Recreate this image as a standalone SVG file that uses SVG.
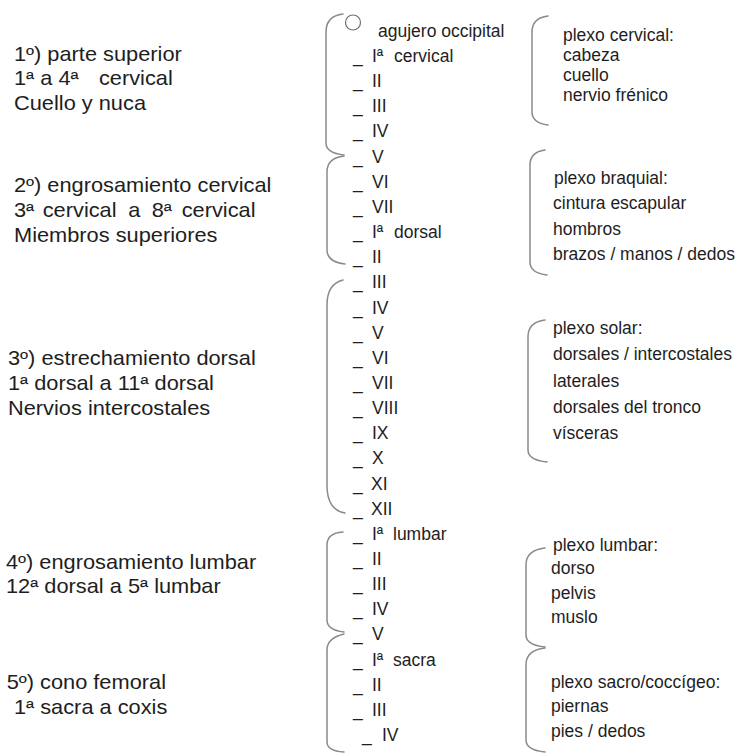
<svg xmlns="http://www.w3.org/2000/svg" width="740" height="753" viewBox="0 0 740 753">
<style>
text{font-family:"Liberation Sans",Arial,sans-serif;fill:#1e1e1e}
.big{font-size:20px}
.lab{font-size:17.5px}
.pl{font-size:17.5px}
.br{fill:none;stroke:#8a8a8a;stroke-width:1.5;stroke-linecap:round}
</style>
<rect width="740" height="753" fill="#ffffff"/>
<g id="regions" transform="scale(1.09,1)">
<g id="r1"><text class="big" x="12.84" y="61">1º) parte superior</text><text class="big" x="12.84" y="85.5">1ª a 4ª<tspan x="90.8">cervical</tspan></text><text class="big" x="12.84" y="110">Cuello y nuca</text></g>
<g id="r2"><text class="big" x="12.84" y="191.7">2º) engrosamiento cervical</text><text class="big" x="12.84" y="216.7">3ª<tspan x="39.2">cervical</tspan><tspan x="117.7">a</tspan><tspan x="139.2">8ª</tspan><tspan x="166.7">cervical</tspan></text><text class="big" x="12.84" y="241.7">Miembros superiores</text></g>
<g id="r3"><text class="big" x="7.34" y="365">3º) estrechamiento dorsal</text><text class="big" x="7.34" y="390">1ª dorsal a 11ª dorsal</text><text class="big" x="7.34" y="415">Nervios intercostales</text></g>
<g id="r4"><text class="big" x="5.5" y="569">4º) engrosamiento lumbar</text><text class="big" x="5.5" y="593.3">12ª dorsal a 5ª lumbar</text></g>
<g id="r5"><text class="big" x="6.1" y="689.3">5º) cono femoral</text><text class="big" x="12.84" y="714">1ª sacra a coxis</text></g>
</g>
<g id="connectors">
<path class="br" d="M343,14 Q326,16 326,32 L326,143 Q326,153 344,155"/>
<path class="br" d="M344,156 Q327,158 327,172 L327,250 Q327,262 345,264"/>
<path class="br" d="M343,280 Q327,284 327,305 L327,485 Q327,510 345,513"/>
<path class="br" d="M343,532 Q327,533 327,545 L327,620 Q327,630 344,632"/>
<path class="br" d="M344,634 Q327,638 327,650 L327,742 Q327,751 344,752"/>
<path class="br" d="M548,16 Q532,18 532,32 L532,112 Q532,123 548,125"/>
<path class="br" d="M545,150 Q530,152 530,165 L530,262 Q530,273 547,275"/>
<path class="br" d="M545,320 Q528,322 528,337 L528,450 Q528,460 547,462"/>
<path class="br" d="M545,548 Q526,550 526,565 L526,635 Q526,645 545,647"/>
<path class="br" d="M545,648 Q526,650 526,665 L526,740 Q526,750 545,752"/>
</g>
<g id="occipital"><circle cx="353" cy="22.5" r="7.5" fill="none" stroke="#707070" stroke-width="1.2"/><text class="lab" x="378" y="37">agujero occipital</text></g>
<g id="vertebrae">
<g id="c1"><text class="lab" x="353" y="62">_</text><text class="lab" x="372" y="62">Iª<tspan x="394">cervical</tspan></text></g>
<g id="c2"><text class="lab" x="353" y="87.15">_</text><text class="lab" x="372" y="87.15">II</text></g>
<g id="c3"><text class="lab" x="353" y="112.3">_</text><text class="lab" x="372" y="112.3">III</text></g>
<g id="c4"><text class="lab" x="353" y="137.45">_</text><text class="lab" x="372" y="137.45">IV</text></g>
<g id="c5"><text class="lab" x="353" y="162.6">_</text><text class="lab" x="372" y="162.6">V</text></g>
<g id="c6"><text class="lab" x="353" y="187.75">_</text><text class="lab" x="372" y="187.75">VI</text></g>
<g id="c7"><text class="lab" x="353" y="212.9">_</text><text class="lab" x="372" y="212.9">VII</text></g>
<g id="d1"><text class="lab" x="353" y="238.05">_</text><text class="lab" x="372" y="238.05">Iª<tspan x="394">dorsal</tspan></text></g>
<g id="d2"><text class="lab" x="353" y="263.2">_</text><text class="lab" x="372" y="263.2">II</text></g>
<g id="d3"><text class="lab" x="353" y="288.35">_</text><text class="lab" x="372" y="288.35">III</text></g>
<g id="d4"><text class="lab" x="353" y="313.5">_</text><text class="lab" x="372" y="313.5">IV</text></g>
<g id="d5"><text class="lab" x="353" y="338.65">_</text><text class="lab" x="372" y="338.65">V</text></g>
<g id="d6"><text class="lab" x="353" y="363.8">_</text><text class="lab" x="372" y="363.8">VI</text></g>
<g id="d7"><text class="lab" x="353" y="388.95">_</text><text class="lab" x="372" y="388.95">VII</text></g>
<g id="d8"><text class="lab" x="353" y="414.1">_</text><text class="lab" x="372" y="414.1">VIII</text></g>
<g id="d9"><text class="lab" x="353" y="439.25">_</text><text class="lab" x="372" y="439.25">IX</text></g>
<g id="d10"><text class="lab" x="353" y="464.4">_</text><text class="lab" x="372" y="464.4">X</text></g>
<g id="d11"><text class="lab" x="353" y="489.55">_</text><text class="lab" x="371" y="489.55">XI</text></g>
<g id="d12"><text class="lab" x="353" y="514.7">_</text><text class="lab" x="371" y="514.7">XII</text></g>
<g id="l1"><text class="lab" x="353" y="539.85">_</text><text class="lab" x="372" y="539.85">Iª<tspan x="393">lumbar</tspan></text></g>
<g id="l2"><text class="lab" x="353" y="565">_</text><text class="lab" x="372" y="565">II</text></g>
<g id="l3"><text class="lab" x="353" y="590.15">_</text><text class="lab" x="372" y="590.15">III</text></g>
<g id="l4"><text class="lab" x="353" y="615.3">_</text><text class="lab" x="372" y="615.3">IV</text></g>
<g id="l5"><text class="lab" x="353" y="640.45">_</text><text class="lab" x="372" y="640.45">V</text></g>
<g id="s1"><text class="lab" x="353" y="665.6">_</text><text class="lab" x="372" y="665.6">Iª<tspan x="393">sacra</tspan></text></g>
<g id="s2"><text class="lab" x="353" y="690.75">_</text><text class="lab" x="372" y="690.75">II</text></g>
<g id="s3"><text class="lab" x="353" y="715.9">_</text><text class="lab" x="372" y="715.9">III</text></g>
<g id="s4"><text class="lab" x="362" y="741">_</text><text class="lab" x="382" y="741">IV</text></g>
</g>
<g id="plexos">
<g id="p-cervical"><text class="pl" x="563" y="41">plexo cervical:</text><text class="pl" x="563" y="61">cabeza</text><text class="pl" x="563" y="81">cuello</text><text class="pl" x="563" y="101">nervio frénico</text></g>
<g id="p-braquial"><text class="pl" x="554" y="184">plexo braquial:</text><text class="pl" x="553" y="209">cintura escapular</text><text class="pl" x="553" y="234.5">hombros</text><text class="pl" x="553" y="260">brazos / manos / dedos</text></g>
<g id="p-solar"><text class="pl" x="553" y="334">plexo solar:</text><text class="pl" x="553" y="360">dorsales / intercostales</text><text class="pl" x="553" y="387">laterales</text><text class="pl" x="553" y="413">dorsales del tronco</text><text class="pl" x="553" y="439">vísceras</text></g>
<g id="p-lumbar"><text class="pl" x="553" y="551">plexo lumbar:</text><text class="pl" x="551" y="574">dorso</text><text class="pl" x="551" y="599">pelvis</text><text class="pl" x="551" y="623">muslo</text></g>
<g id="p-sacro"><text class="pl" x="551" y="688">plexo sacro/coccígeo:</text><text class="pl" x="551" y="712">piernas</text><text class="pl" x="551" y="737">pies / dedos</text></g>
</g>
</svg>
